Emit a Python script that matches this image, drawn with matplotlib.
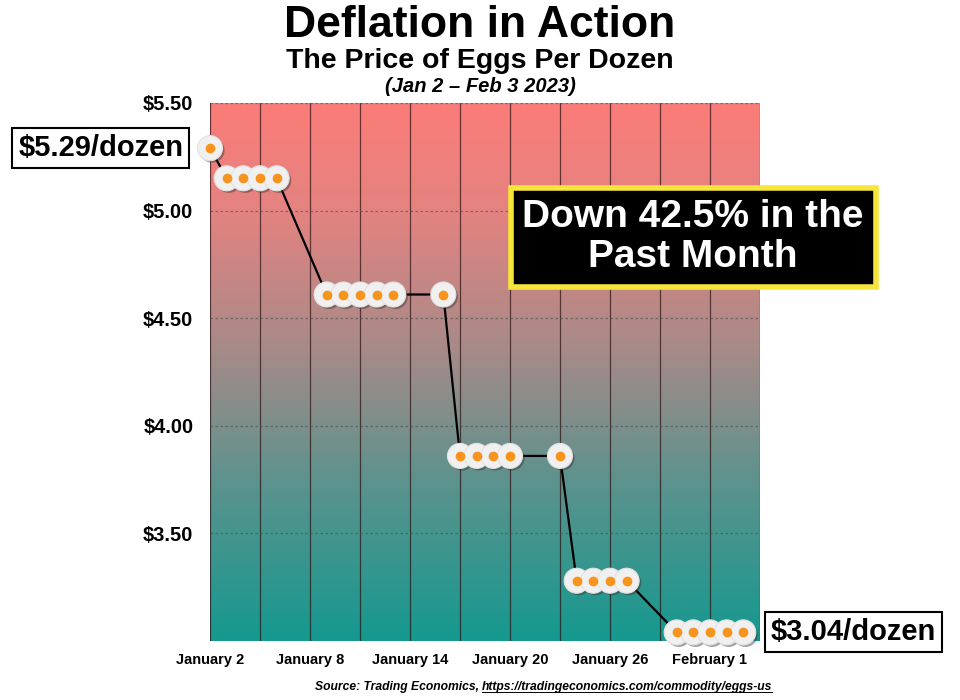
import matplotlib
matplotlib.use("Agg")
import matplotlib.pyplot as plt
import matplotlib.dates as mdates
import matplotlib.patheffects as pe
from matplotlib.colors import LinearSegmentedColormap
import numpy as np
import pandas as pd

plt.rcParams["font.family"] = ["Liberation Sans", "DejaVu Sans"]
plt.rcParams["font.weight"] = "bold"

# trading days and price per dozen
dates = pd.to_datetime([
    "2023-01-02", "2023-01-03", "2023-01-04", "2023-01-05", "2023-01-06",
    "2023-01-09", "2023-01-10", "2023-01-11", "2023-01-12", "2023-01-13",
    "2023-01-16", "2023-01-17", "2023-01-18", "2023-01-19", "2023-01-20",
    "2023-01-23", "2023-01-24", "2023-01-25", "2023-01-26", "2023-01-27",
    "2023-01-30", "2023-01-31", "2023-02-01", "2023-02-02", "2023-02-03",
])
prices = [
    5.29, 5.15, 5.15, 5.15, 5.15,
    4.61, 4.61, 4.61, 4.61, 4.61,
    4.61, 3.86, 3.86, 3.86, 3.86,
    3.86, 3.28, 3.28, 3.28, 3.28,
    3.04, 3.04, 3.04, 3.04, 3.04,
]
x_ticks = pd.to_datetime(["2023-01-02", "2023-01-08", "2023-01-14",
                          "2023-01-20", "2023-01-26", "2023-02-01"])
x_tick_labels = ["January 2", "January 8", "January 14",
                 "January 20", "January 26", "February 1"]
y_ticks = [3.5, 4.0, 4.5, 5.0, 5.5]
y_tick_labels = ["$3.50", "$4.00", "$4.50", "$5.00", "$5.50"]

x_start = pd.Timestamp("2023-01-02")
x_end = pd.Timestamp("2023-02-04")

fig = plt.figure(figsize=(9.6, 7.0), dpi=100)
ax = fig.add_axes([0.21875, 0.0843, 0.5729, 0.7686])

# gradient background
cmap = LinearSegmentedColormap.from_list(
    "bg", [(0.0, "#15998f"), (0.3, "#5e928d"), (0.55, "#a98a88"),
           (0.8, "#e48380"), (1.0, "#fb7c78")])
grad = np.linspace(0, 1, 256).reshape(-1, 1)
x0, x1 = mdates.date2num(x_start), mdates.date2num(x_end)
ax.imshow(grad, cmap=cmap, origin="lower", aspect="auto",
          extent=[x0, x1, 3.0, 5.5], zorder=0)

ax.set_xlim(x0, x1)
ax.set_ylim(3.0, 5.5)

# vertical grid every 3 days
for d in pd.date_range(x_start, x_end, freq="3D"):
    ax.axvline(d, color="#2a1010", lw=0.9, alpha=0.7, zorder=1)
for yv in y_ticks:
    ax.axhline(yv, color="#555555", lw=0.9, ls=(0, (2, 2)), alpha=0.7, zorder=1)

ax.plot(dates, prices, color="black", lw=1.6, zorder=2, clip_on=False)
ax.plot(dates, prices, ls="none", marker="o", ms=18, mfc="#f0f0f0",
        mec="#e2e2e2", mew=0.8, zorder=3, clip_on=False,
        path_effects=[pe.SimplePatchShadow(offset=(1.5, -1.5), alpha=0.45,
                                           shadow_rgbFace="#333333"),
                      pe.Normal()])
ax.plot(dates, prices, ls="none", marker="o", ms=6, mfc="#f7941d",
        mec="#f7941d", zorder=4, clip_on=False)

ax.set_xticks(x_ticks)
ax.set_xticklabels(x_tick_labels, fontsize=10.5, fontweight="bold")
ax.set_yticks(y_ticks)
ax.set_yticklabels(y_tick_labels, fontsize=14.5, fontweight="bold")
ax.tick_params(axis="both", length=0)
ax.tick_params(axis="y", pad=12)
ax.tick_params(axis="x", pad=9)
for s in ax.spines.values():
    s.set_visible(False)

fig.text(0.5, 0.947, "Deflation in Action", ha="center", va="baseline",
         fontsize=32, fontweight="bold")
fig.text(0.5, 0.903, "The Price of Eggs Per Dozen", ha="center", va="baseline",
         fontsize=20.5, fontweight="bold")
fig.text(0.5, 0.868, "(Jan 2 \u2013 Feb 3 2023)", ha="center", va="baseline",
         fontsize=14.5, fontweight="bold", style="italic")

fig.text(0.105, 0.789, "$5.29/dozen", ha="center", va="center", fontsize=21,
         fontweight="bold",
         bbox=dict(boxstyle="square,pad=0.2", fc="white", ec="black", lw=1.5))
fig.text(0.889, 0.097, "$3.04/dozen", ha="center", va="center", fontsize=21,
         fontweight="bold",
         bbox=dict(boxstyle="square,pad=0.2", fc="white", ec="black", lw=1.5))
fig.text(0.722, 0.661, "Down 42.5% in the\nPast Month", ha="center",
         va="center", fontsize=28, fontweight="bold", color="white",
         linespacing=1.15,
         bbox=dict(boxstyle="square,pad=0.3", fc="black", ec="#f7e63a", lw=4))

src_y = 0.019
url = fig.text(0.502, src_y, "https://tradingeconomics.com/commodity/eggs-us",
               ha="left", va="center", fontsize=8.7, fontweight="bold",
               style="italic")
fig.text(0.502, src_y, "Source: Trading Economics, ", ha="right", va="center",
         fontsize=8.7, fontweight="bold", style="italic")
fig.canvas.draw()
bb = url.get_window_extent().transformed(fig.transFigure.inverted())
fig.add_artist(plt.Line2D([bb.x0, bb.x1], [bb.y0 + 0.001, bb.y0 + 0.001],
                          transform=fig.transFigure, color="black", lw=0.7))

fig.savefig("out.png", dpi=100)
